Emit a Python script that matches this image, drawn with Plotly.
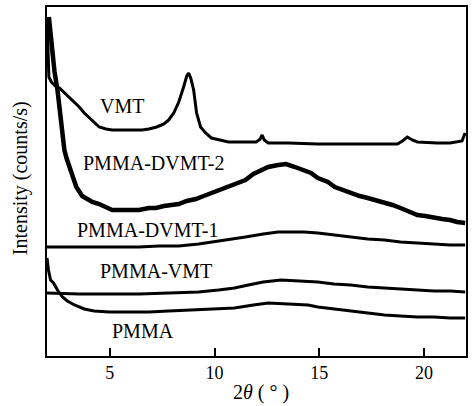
import plotly.graph_objects as go

# 2theta (deg) and intensity (arbitrary units, offset-stacked)
vmt_x = [2.0, 2.05, 2.09, 2.21, 2.40, 2.59, 2.83, 3.07, 3.31, 3.54, 3.78, 4.02, 4.25, 4.49, 4.82,
         5.11, 5.58, 6.06, 6.53, 6.86, 7.24, 7.58, 7.81, 8.05, 8.29, 8.52, 8.67, 8.76, 8.86, 9.00,
         9.14, 9.33, 9.57, 9.85, 10.19, 10.66, 11.47, 11.99, 12.18, 12.27, 12.37, 12.56, 13.51,
         14.93, 16.50, 17.78, 18.73, 18.97, 19.20, 19.44, 19.68, 20.63, 21.24, 21.81, 21.96]
vmt_y = [339, 311, 279, 274, 270, 268, 263, 259, 254, 249, 243, 238, 233, 229, 227,
         226, 226, 226, 226, 227, 229, 232, 236, 243, 254, 269, 280, 283, 278, 266,
         243, 229, 223, 218, 216, 214, 214, 214, 217, 221, 216, 213, 213,
         212, 212, 212, 212, 215, 219, 216, 214, 213, 213, 215, 223]

dvmt2_x = [2.09, 2.17, 2.26, 2.36, 2.50, 2.64, 2.74, 2.83, 2.93, 3.16, 3.40, 3.68, 3.92, 4.16,
           4.49, 4.82, 5.11, 5.44, 5.77, 6.15, 6.39, 6.86, 7.20, 7.58, 7.96, 8.29, 8.67, 9.10,
           9.48, 9.85, 10.28, 10.66, 11.04, 11.47, 11.85, 12.23, 12.56, 13.03, 13.41, 13.84,
           14.22, 14.60, 14.93, 15.41, 15.74, 16.12, 16.50, 16.93, 17.31, 17.69, 18.11, 18.49,
           18.87, 19.30, 19.68, 20.06, 20.48, 20.86, 21.24, 21.58, 21.96]
dvmt2_y = [339, 321, 301, 284, 266, 241, 221, 206, 198, 183, 169, 160, 157, 154,
           152, 149, 146, 146, 146, 147, 146, 148, 148, 150, 151, 152, 155, 157,
           160, 163, 166, 169, 172, 176, 182, 186, 189, 191, 192, 189,
           186, 183, 178, 174, 169, 166, 163, 160, 158, 156, 153, 151,
           148, 144, 141, 140, 139, 137, 136, 134, 133]

dvmt1_x = [2.0, 2.59, 3.54, 4.49, 5.44, 6.39, 7.34, 8.29, 9.24, 9.95, 10.66, 11.47, 12.32,
           13.03, 13.75, 14.27, 14.93, 15.74, 16.50, 17.31, 18.11, 18.87, 19.68, 20.48, 21.24, 21.96]
dvmt1_y = [109, 109, 109, 109, 109, 109, 110, 110, 112, 114, 116, 119, 122,
           124, 124, 124, 123, 121, 119, 117, 116, 114, 113, 112, 111, 111]

pvmt_x = [2.0, 3.54, 5.0, 6.39, 7.81, 9.24, 10.19, 10.95, 11.61, 12.32, 13.17, 13.98, 14.93,
          15.69, 16.50, 17.31, 18.11, 18.87, 19.68, 20.48, 21.24, 21.96]
pvmt_y = [63, 62, 62, 62, 63, 64, 66, 68, 71, 74, 76, 75, 74,
          72, 71, 69, 68, 67, 66, 65, 65, 64]

pmma_x = [2.0, 2.07, 2.17, 2.31, 2.50, 2.74, 2.97, 3.31, 3.78, 4.25, 4.97, 5.92, 6.86, 7.81,
          8.76, 9.71, 10.95, 11.85, 12.56, 13.51, 14.46, 14.93, 15.74, 16.50, 17.31, 18.11,
          18.87, 19.68, 20.48, 21.24, 21.96]
pmma_y = [98, 86, 76, 73, 66, 59, 55, 51, 47, 45, 44, 44, 44, 45,
          46, 47, 48, 51, 53, 52, 51, 49, 47, 45, 43, 41,
          40, 39, 39, 38, 38]

series = [("VMT", vmt_x, vmt_y, 3),
          ("PMMA-DVMT-2", dvmt2_x, dvmt2_y, 4.5),
          ("PMMA-DVMT-1", dvmt1_x, dvmt1_y, 3),
          ("PMMA-VMT", pvmt_x, pvmt_y, 3),
          ("PMMA", pmma_x, pmma_y, 3)]

label_text = ["VMT", "PMMA-DVMT-2", "PMMA-DVMT-1", "PMMA-VMT", "PMMA"]
label_x = [5.56, 7.1, 6.8, 7.2, 6.6]
label_y = [250, 193, 126, 85, 25]

x_ticks = [5, 10, 15, 20]

fig = go.Figure()
for name, xs, ys, w in series:
    fig.add_trace(go.Scatter(x=xs, y=ys, mode="lines", name=name,
                             line=dict(color="black", width=w), showlegend=False))

serif = "Liberation Serif"
for t, lx, ly in zip(label_text, label_x, label_y):
    fig.add_annotation(x=lx, y=ly, xref="x", yref="y", text=t, showarrow=False,
                       font=dict(family=serif, size=20, color="black"))

fig.add_annotation(x=0.51, y=-0.106, xref="paper", yref="paper", text="2<i>θ</i> ( ° )",
                   showarrow=False, font=dict(family=serif, size=20, color="black"),
                   yanchor="middle")
fig.add_annotation(x=-0.064, y=0.51, xref="paper", yref="paper", text="Intensity (counts/s)",
                   showarrow=False, textangle=-90, font=dict(family=serif, size=20, color="black"),
                   xanchor="center", yanchor="middle")

fig.update_layout(
    width=472, height=406,
    margin=dict(l=47, r=4, t=7, b=50),
    paper_bgcolor="white", plot_bgcolor="white",
    xaxis=dict(range=[2, 22], tickvals=x_ticks, ticks="inside", ticklen=8, tickwidth=1.5,
               tickcolor="black", showline=True, linecolor="black", linewidth=1.5, mirror=True,
               showgrid=False, zeroline=False,
               tickfont=dict(family=serif, size=18, color="black")),
    yaxis=dict(range=[0, 349], showticklabels=False, ticks="", showline=True,
               linecolor="black", linewidth=1.5, mirror=True, showgrid=False, zeroline=False),
)

fig.write_html("out.html", config={"displayModeBar": False},
               post_script="document.body.style.margin='0';document.body.style.overflow='hidden';")
